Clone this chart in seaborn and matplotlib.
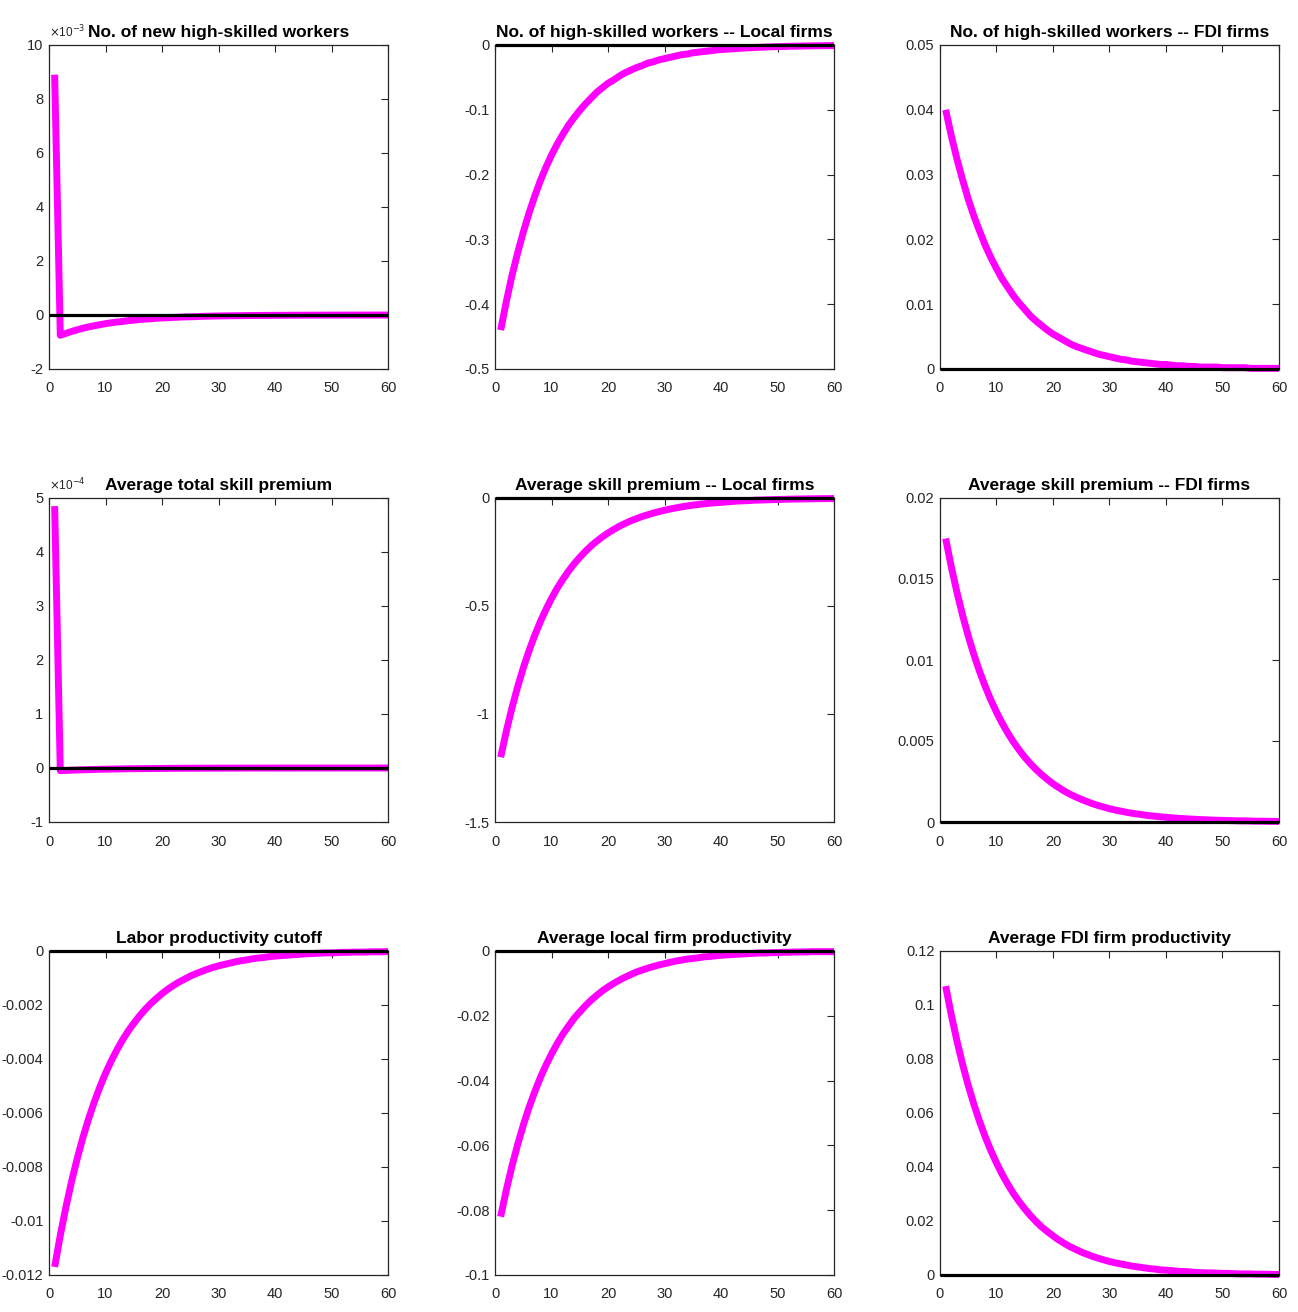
import numpy as np
import pandas as pd
import matplotlib
matplotlib.use("Agg")
import matplotlib.pyplot as plt
from matplotlib.ticker import FuncFormatter, MultipleLocator
import seaborn as sns

# Impulse responses, periods 1..60
new_hs_workers = [8.9e-3, -0.75e-3, -0.68e-3, -0.61e-3, -0.55e-3, -0.49e-3, -0.44e-3, -0.40e-3, -0.36e-3, -0.32e-3,
                  -0.29e-3, -0.26e-3, -0.24e-3, -0.21e-3, -0.19e-3, -0.17e-3, -0.15e-3, -0.14e-3, -0.12e-3, -0.11e-3,
                  -0.10e-3, -0.09e-3, -0.08e-3, -0.07e-3, -0.065e-3, -0.06e-3, -0.05e-3, -0.045e-3, -0.04e-3, -0.036e-3,
                  -0.032e-3, -0.029e-3, -0.026e-3, -0.024e-3, -0.021e-3, -0.019e-3, -0.017e-3, -0.015e-3, -0.014e-3, -0.012e-3,
                  -0.011e-3, -0.010e-3, -0.009e-3, -0.008e-3, -0.007e-3, -0.0065e-3, -0.006e-3, -0.005e-3, -0.0047e-3, -0.004e-3,
                  -0.0037e-3, -0.0033e-3, -0.003e-3, -0.0027e-3, -0.0024e-3, -0.0022e-3, -0.002e-3, -0.0018e-3, -0.0016e-3, -0.0014e-3]

hs_workers_local = [-0.440, -0.396, -0.356, -0.321, -0.289, -0.260, -0.234, -0.210, -0.189, -0.170,
                    -0.153, -0.138, -0.124, -0.112, -0.101, -0.091, -0.082, -0.073, -0.066, -0.059,
                    -0.054, -0.048, -0.043, -0.039, -0.035, -0.032, -0.028, -0.026, -0.023, -0.021,
                    -0.019, -0.017, -0.015, -0.014, -0.012, -0.011, -0.010, -0.009, -0.008, -0.007,
                    -0.0065, -0.006, -0.0053, -0.0048, -0.0043, -0.0038, -0.0035, -0.0031, -0.0028, -0.0025,
                    -0.0023, -0.0020, -0.0018, -0.0017, -0.0015, -0.0013, -0.0012, -0.0011, -0.0010, -0.0009]

hs_workers_fdi = [0.0400, 0.0360, 0.0324, 0.0292, 0.0262, 0.0236, 0.0213, 0.0191, 0.0172, 0.0155,
                  0.0139, 0.0126, 0.0113, 0.0102, 0.0092, 0.0082, 0.0074, 0.0067, 0.0060, 0.0054,
                  0.0049, 0.0044, 0.0039, 0.0035, 0.0032, 0.0029, 0.0026, 0.0023, 0.0021, 0.0019,
                  0.0017, 0.0015, 0.0014, 0.0012, 0.0011, 0.0010, 0.0009, 0.0008, 0.0007, 0.0007,
                  0.0006, 0.0005, 0.0005, 0.0004, 0.0004, 0.0003, 0.0003, 0.0003, 0.0003, 0.0002,
                  0.0002, 0.0002, 0.0002, 0.0002, 0.0001, 0.0001, 0.0001, 0.0001, 0.0001, 0.0001]

total_premium = [4.85e-4, -0.05e-4, -0.045e-4, -0.04e-4, -0.036e-4, -0.033e-4, -0.03e-4, -0.027e-4, -0.024e-4, -0.022e-4,
                 -0.02e-4, -0.018e-4, -0.016e-4, -0.014e-4, -0.013e-4, -0.012e-4, -0.011e-4, -0.01e-4, -0.009e-4, -0.008e-4,
                 -0.007e-4, -0.006e-4, -0.0055e-4, -0.005e-4, -0.0045e-4, -0.004e-4, -0.0036e-4, -0.0032e-4, -0.003e-4, -0.0027e-4,
                 -0.0024e-4, -0.0022e-4, -0.002e-4, -0.0018e-4, -0.0016e-4, -0.0014e-4, -0.0013e-4, -0.0012e-4, -0.0011e-4, -0.001e-4,
                 -0.0009e-4, -0.0008e-4, -0.0007e-4, -0.0006e-4, -0.0006e-4, -0.0005e-4, -0.0005e-4, -0.0004e-4, -0.0004e-4, -0.0003e-4,
                 -0.0003e-4, -0.0003e-4, -0.0003e-4, -0.0002e-4, -0.0002e-4, -0.0002e-4, -0.0002e-4, -0.0002e-4, -0.0001e-4, -0.0001e-4]

premium_local = [-1.200, -1.080, -0.972, -0.875, -0.787, -0.709, -0.638, -0.574, -0.517, -0.465,
                 -0.418, -0.377, -0.339, -0.305, -0.275, -0.247, -0.222, -0.200, -0.180, -0.162,
                 -0.146, -0.131, -0.118, -0.106, -0.096, -0.086, -0.078, -0.070, -0.063, -0.057,
                 -0.051, -0.046, -0.041, -0.037, -0.033, -0.030, -0.027, -0.024, -0.022, -0.020,
                 -0.018, -0.016, -0.014, -0.013, -0.012, -0.010, -0.0095, -0.0085, -0.0077, -0.0069,
                 -0.0062, -0.0056, -0.0050, -0.0045, -0.0041, -0.0036, -0.0033, -0.0030, -0.0027, -0.0024]

premium_fdi = [0.01750, 0.01575, 0.01418, 0.01276, 0.01148, 0.01033, 0.00930, 0.00837, 0.00753, 0.00678,
               0.00610, 0.00549, 0.00494, 0.00445, 0.00400, 0.00360, 0.00324, 0.00292, 0.00263, 0.00236,
               0.00213, 0.00191, 0.00172, 0.00155, 0.00140, 0.00126, 0.00113, 0.00102, 0.00092, 0.00082,
               0.00074, 0.00067, 0.00060, 0.00054, 0.00049, 0.00044, 0.00039, 0.00036, 0.00032, 0.00029,
               0.00026, 0.00023, 0.00021, 0.00019, 0.00017, 0.00015, 0.00014, 0.00012, 0.00011, 0.00010,
               0.00009, 0.00008, 0.00007, 0.00007, 0.00006, 0.00005, 0.00005, 0.00004, 0.00004, 0.00003]

productivity_cutoff = [-0.01170, -0.01053, -0.00948, -0.00853, -0.00768, -0.00691, -0.00622, -0.00560, -0.00504, -0.00453,
                       -0.00408, -0.00367, -0.00330, -0.00297, -0.00268, -0.00241, -0.00217, -0.00195, -0.00176, -0.00158,
                       -0.00142, -0.00128, -0.00115, -0.00104, -0.00093, -0.00084, -0.00076, -0.00068, -0.00061, -0.00055,
                       -0.00050, -0.00045, -0.00040, -0.00036, -0.00033, -0.00029, -0.00026, -0.00024, -0.00021, -0.00019,
                       -0.00017, -0.00016, -0.00014, -0.00013, -0.00011, -0.00010, -0.00009, -0.00008, -0.00007, -0.00007,
                       -0.00006, -0.00005, -0.00005, -0.00004, -0.00004, -0.00004, -0.00003, -0.00003, -0.00003, -0.00002]

productivity_local = [-0.0820, -0.0738, -0.0664, -0.0598, -0.0538, -0.0484, -0.0436, -0.0392, -0.0353, -0.0318,
                      -0.0286, -0.0257, -0.0232, -0.0208, -0.0188, -0.0169, -0.0152, -0.0137, -0.0123, -0.0111,
                      -0.0100, -0.0090, -0.0081, -0.0073, -0.0065, -0.0059, -0.0053, -0.0048, -0.0043, -0.0039,
                      -0.0035, -0.0031, -0.0028, -0.0025, -0.0023, -0.0021, -0.0018, -0.0017, -0.0015, -0.0013,
                      -0.0012, -0.0011, -0.0010, -0.0009, -0.0008, -0.0007, -0.0006, -0.0006, -0.0005, -0.0005,
                      -0.0004, -0.0004, -0.0003, -0.0003, -0.0003, -0.0002, -0.0002, -0.0002, -0.0002, -0.0002]

productivity_fdi = [0.1070, 0.0963, 0.0867, 0.0780, 0.0702, 0.0632, 0.0569, 0.0512, 0.0461, 0.0415,
                    0.0373, 0.0336, 0.0302, 0.0272, 0.0245, 0.0220, 0.0198, 0.0178, 0.0161, 0.0145,
                    0.0130, 0.0117, 0.0105, 0.0095, 0.0085, 0.0077, 0.0069, 0.0062, 0.0056, 0.0050,
                    0.0045, 0.0041, 0.0037, 0.0033, 0.0030, 0.0027, 0.0024, 0.0022, 0.0019, 0.0018,
                    0.0016, 0.0014, 0.0013, 0.0012, 0.0010, 0.0009, 0.0008, 0.0008, 0.0007, 0.0006,
                    0.0006, 0.0005, 0.0004, 0.0004, 0.0004, 0.0003, 0.0003, 0.0003, 0.0002, 0.0002]

titles = ["No. of new high-skilled workers",
          "No. of high-skilled workers -- Local firms",
          "No. of high-skilled workers -- FDI firms",
          "Average total skill premium",
          "Average skill premium -- Local firms",
          "Average skill premium -- FDI firms",
          "Labor productivity cutoff",
          "Average local firm productivity",
          "Average FDI firm productivity"]

series = [new_hs_workers, hs_workers_local, hs_workers_fdi,
          total_premium, premium_local, premium_fdi,
          productivity_cutoff, productivity_local, productivity_fdi]

# (ymin, ymax, tick step, exponent shown above the axis)
y_setup = [(-2e-3, 10e-3, 2e-3, -3),
           (-0.5, 0.0, 0.1, None),
           (0.0, 0.05, 0.01, None),
           (-1e-4, 5e-4, 1e-4, -4),
           (-1.5, 0.0, 0.5, None),
           (0.0, 0.02, 0.005, None),
           (-0.012, 0.0, 0.002, None),
           (-0.1, 0.0, 0.02, None),
           (0.0, 0.12, 0.02, None)]

sns.set_style("white")
plt.rcParams["font.family"] = ["Liberation Sans", "DejaVu Sans"]

W, H = 1298, 1312
fig = plt.figure(figsize=(W / 100, H / 100), dpi=100)

col_left = [49, 495, 940]
row_top = [45, 498, 951]
ax_w, ax_h = 339, 324
axis_grey = "#262626"


def tick_text(v, pos, scale=1.0):
    return "%g" % (round(v * scale, 6) + 0.0)


for i, (title, vals, (ymin, ymax, step, expo)) in enumerate(zip(titles, series, y_setup)):
    r, c = divmod(i, 3)
    ax = fig.add_axes([col_left[c] / W, 1 - (row_top[r] + ax_h) / H, ax_w / W, ax_h / H])
    df = pd.DataFrame({"period": np.arange(1, len(vals) + 1), "value": vals})
    sns.lineplot(data=df, x="period", y="value", ax=ax, color="#FF00FF",
                 linewidth=5.0, clip_on=False, zorder=2, solid_capstyle="butt")
    ax.axhline(0, color="black", linewidth=2.3, zorder=3, clip_on=False,
               solid_capstyle="butt")

    ax.set_xlim(0, 60)
    ax.set_ylim(ymin, ymax)
    ax.xaxis.set_major_locator(MultipleLocator(10))
    ax.yaxis.set_major_locator(MultipleLocator(step))
    scale = 10.0 ** (-expo) if expo is not None else 1.0
    ax.yaxis.set_major_formatter(FuncFormatter(lambda v, p, s=scale: tick_text(v, p, s)))
    ax.set_xlabel("")
    ax.set_ylabel("")
    ax.tick_params(direction="in", length=5, width=0.8, top=True, right=True,
                   colors=axis_grey, labelsize=10.5)
    ax.tick_params(axis="x", pad=9)
    ax.tick_params(axis="y", pad=4)
    for sp in ax.spines.values():
        sp.set_visible(True)
        sp.set_color(axis_grey)
        sp.set_linewidth(0.9)
    ax.set_title(title, fontsize=12.5, fontweight="bold", color="black", pad=6)
    if expo is not None:
        ax.text(0.0, 1.015, r"$\times$10$^{%d}$" % expo, transform=ax.transAxes,
                fontsize=8.5, color=axis_grey, ha="left", va="bottom")

fig.savefig("out.png", dpi=100, facecolor="white")
